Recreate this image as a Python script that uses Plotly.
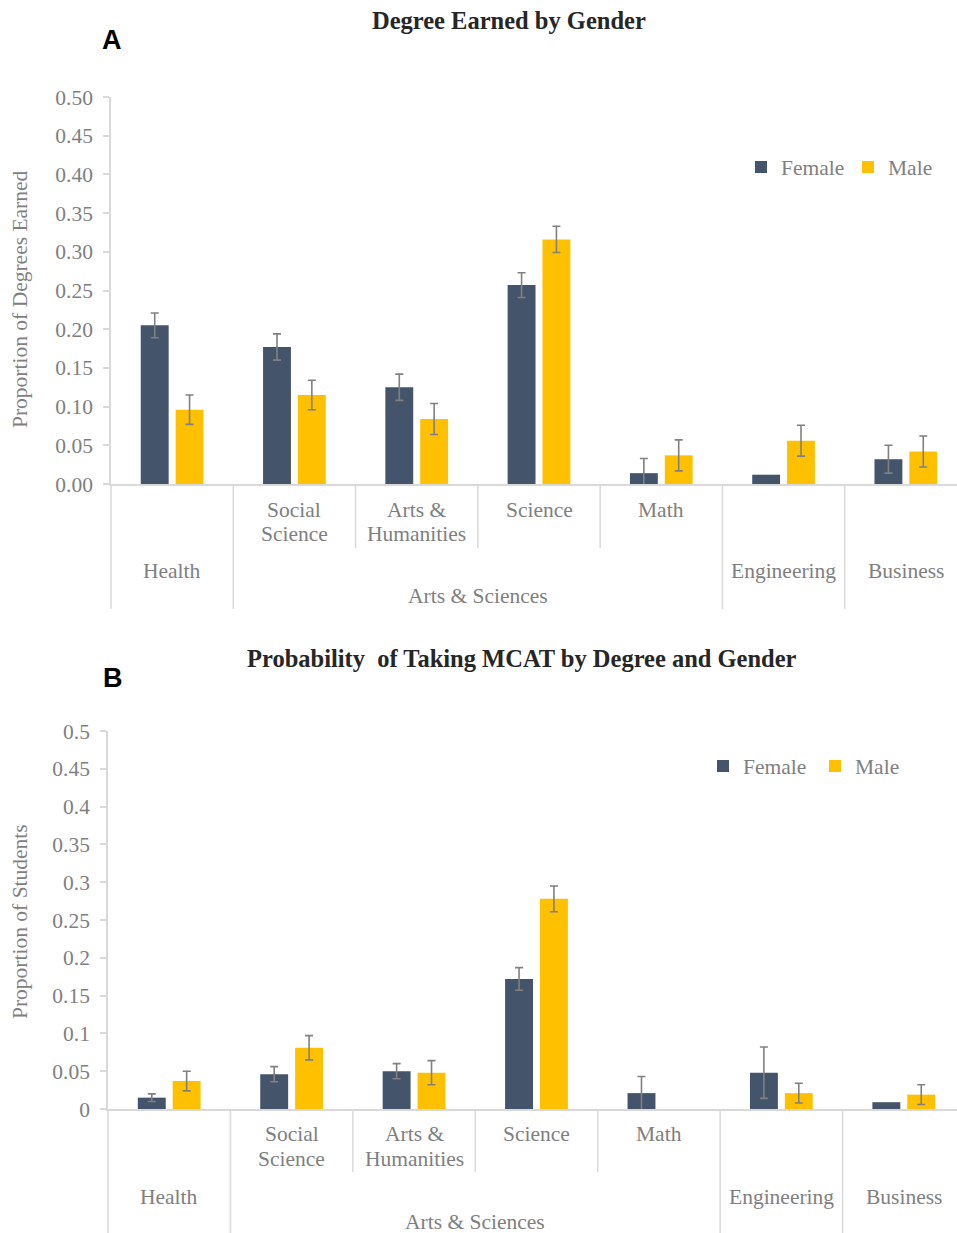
import numpy as np
import plotly.graph_objects as go

# ---- data -------------------------------------------------------------
fields = ["Health", "Social Science", "Arts & Humanities", "Science",
          "Math", "Engineering", "Business"]
field_lines = [["Health"], ["Social", "Science"], ["Arts &", "Humanities"],
               ["Science"], ["Math"], ["Engineering"], ["Business"]]
group_name = "Arts & Sciences"
group_members = ["Social Science", "Arts & Humanities", "Science", "Math"]

degree_female = [0.205, 0.177, 0.125, 0.257, 0.014, 0.012, 0.032]
degree_female_err = [0.016, 0.017, 0.017, 0.016, 0.019, None, 0.018]
degree_male = [0.096, 0.115, 0.084, 0.316, 0.037, 0.056, 0.042]
degree_male_err = [0.019, 0.019, 0.020, 0.017, 0.020, 0.020, 0.020]

mcat_female = [0.015, 0.046, 0.050, 0.172, 0.021, 0.048, 0.009]
mcat_female_err = [0.005, 0.010, 0.010, 0.015, 0.022, 0.034, None]
mcat_male = [0.037, 0.081, 0.048, 0.278, 0.0, 0.021, 0.019]
mcat_male_err = [0.013, 0.016, 0.016, 0.017, None, 0.013, 0.013]

y_ticks_a = [0, 0.05, 0.10, 0.15, 0.20, 0.25, 0.30, 0.35, 0.40, 0.45, 0.50]
y_ticks_b = [0, 0.05, 0.1, 0.15, 0.2, 0.25, 0.3, 0.35, 0.4, 0.45, 0.5]

# ---- styling ----------------------------------------------------------
W, H = 957, 1233
SERIF = "Liberation Serif"
GREY_TXT = "#7F7F7F"
GREY_LINE = "#D9D9D9"
FEMALE = "#44546A"
MALE = "#FFC000"
FS = 21.5


def py(p):
    """pixel row -> paper y"""
    return 1 - p / H


def err_array(errs):
    # missing error values become NaN so no whisker is drawn for them
    return np.array([np.nan if e is None else e for e in errs], dtype=float)


panels = [
    dict(xa="x", ya="y", legend="legend", female=degree_female, female_err=degree_female_err,
         male=degree_male, male_err=degree_male_err,
         left=111, base=484, top=97, right_end=967,
         row1=(510, 534), row2=571, row3=596, short_end=548, long_end=609,
         ticks=y_ticks_a, fmt=".2f", ytitle="Proportion of Degrees Earned", ytitle_y=299,
         title="Degree Earned by Gender", title_x=509, title_y=20,
         letter="A", letter_xy=(112, 40), legend_xy=(741, 167), legend_w=62),
    dict(xa="x2", ya="y2", legend="legend2", female=mcat_female, female_err=mcat_female_err,
         male=mcat_male, male_err=mcat_male_err,
         left=108, base=1109, top=731, right_end=965,
         row1=(1134, 1159), row2=1197, row3=1222, short_end=1172, long_end=1233,
         ticks=y_ticks_b, fmt="", ytitle="Proportion of Students", ytitle_y=922,
         title="Probability  of Taking MCAT by Degree and Gender", title_x=522, title_y=658,
         letter="B", letter_xy=(113, 678), legend_xy=(703, 766), legend_w=67),
]

fig = go.Figure()
layout = dict(
    width=W, height=H, margin=dict(l=0, r=0, t=0, b=0, autoexpand=False),
    paper_bgcolor="white", plot_bgcolor="white",
    barmode="group", bargap=0.43, bargroupgap=0.2,
    font=dict(family=SERIF, size=FS, color=GREY_TXT),
    showlegend=True,
)
annotations = []
shapes = []

for i, p in enumerate(panels):
    err_style = dict(type="data", visible=True, color="#808080", thickness=1.6, width=4)
    fig.add_trace(go.Bar(
        x=fields, y=p["female"], name="Female", marker=dict(color=FEMALE, line=dict(width=0)),
        error_y=dict(array=err_array(p["female_err"]), **err_style),
        xaxis=p["xa"], yaxis=p["ya"], legend=p["legend"]))
    fig.add_trace(go.Bar(
        x=fields, y=p["male"], name="Male", marker=dict(color=MALE, line=dict(width=0)),
        error_y=dict(array=err_array(p["male_err"]), **err_style),
        xaxis=p["xa"], yaxis=p["ya"], legend=p["legend"]))

    cat_w = (p["right_end"] - p["left"]) / len(fields)
    x_hi = -0.5 + (W - p["left"]) / cat_w
    xkey = "xaxis" if i == 0 else "xaxis2"
    ykey = "yaxis" if i == 0 else "yaxis2"
    layout[xkey] = dict(
        domain=[p["left"] / W, 1], anchor=p["ya"], type="category", automargin=False,
        range=[-0.5, x_hi], showline=True, linecolor=GREY_LINE, linewidth=1.5,
        showticklabels=False, ticks="", showgrid=False, zeroline=False, fixedrange=True)
    layout[ykey] = dict(
        domain=[py(p["base"]), py(p["top"])], anchor=p["xa"], automargin=False,
        range=[0, 0.5], tickvals=p["ticks"], tickformat=p["fmt"],
        ticks="outside", ticklen=6, tickwidth=1.5, tickcolor=GREY_LINE,
        ticklabelstandoff=6,
        showline=True, linecolor=GREY_LINE, linewidth=1.5,
        showgrid=False, zeroline=False, fixedrange=True,
        tickfont=dict(family=SERIF, size=FS, color=GREY_TXT))

    # vertical axis title
    annotations.append(dict(
        x=20 / W, y=py(p["ytitle_y"]), xref="paper", yref="paper", text=p["ytitle"],
        textangle=-90, showarrow=False, xanchor="center", yanchor="middle",
        font=dict(family=SERIF, size=FS, color=GREY_TXT)))

    lname = p["legend"]
    layout[lname] = dict(
        orientation="h", x=p["legend_xy"][0] / W, y=py(p["legend_xy"][1]),
        xanchor="left", yanchor="middle", bgcolor="rgba(0,0,0,0)",
        font=dict(family=SERIF, size=FS, color=GREY_TXT),
        entrywidth=p["legend_w"], entrywidthmode="pixels", itemclick=False)

    # category labels and dividers beneath the axis
    for k, (name, lines) in enumerate(zip(fields, field_lines)):
        if name in group_members:
            rows = p["row1"] if len(lines) == 2 else (p["row1"][0],)
        else:
            rows = (p["row2"],)
        for txt, r in zip(lines, rows):
            annotations.append(dict(
                x=k, y=py(r), xref=p["xa"], yref="paper", text=txt, showarrow=False,
                xanchor="center", yanchor="middle",
                font=dict(family=SERIF, size=FS, color=GREY_TXT)))
    g_idx = [fields.index(m) for m in group_members]
    annotations.append(dict(
        x=(g_idx[0] + g_idx[-1]) / 2, y=py(p["row3"]), xref=p["xa"], yref="paper",
        text=group_name, showarrow=False, xanchor="center", yanchor="middle",
        font=dict(family=SERIF, size=FS, color=GREY_TXT)))

    for b in range(len(fields) + 1):
        xb = b - 0.5
        inside = (g_idx[0] <= b - 1) and (b <= g_idx[-1])
        end = p["short_end"] if inside else p["long_end"]
        if b == 0:
            shapes.append(dict(type="line", xref=p["xa"] + " domain", yref="paper",
                               x0=0, x1=0, y0=py(p["base"]), y1=py(end),
                               line=dict(color=GREY_LINE, width=1.5)))
        else:
            shapes.append(dict(type="line", xref=p["xa"], yref="paper",
                               x0=xb, x1=xb, y0=py(p["base"]), y1=py(end),
                               line=dict(color=GREY_LINE, width=1.5)))

    annotations.append(dict(
        x=p["title_x"] / W, y=py(p["title_y"]), xref="paper", yref="paper",
        text="<b>" + p["title"] + "</b>", showarrow=False, xanchor="center", yanchor="middle",
        font=dict(family=SERIF, size=24.5, color="#262626")))
    annotations.append(dict(
        x=p["letter_xy"][0] / W, y=py(p["letter_xy"][1]), xref="paper", yref="paper",
        text="<b>" + p["letter"] + "</b>", showarrow=False, xanchor="center", yanchor="middle",
        font=dict(family="Liberation Sans", size=27, color="#000000")))

layout["annotations"] = annotations
layout["shapes"] = shapes
fig.update_layout(**layout)
fig.write_html("out.html")
